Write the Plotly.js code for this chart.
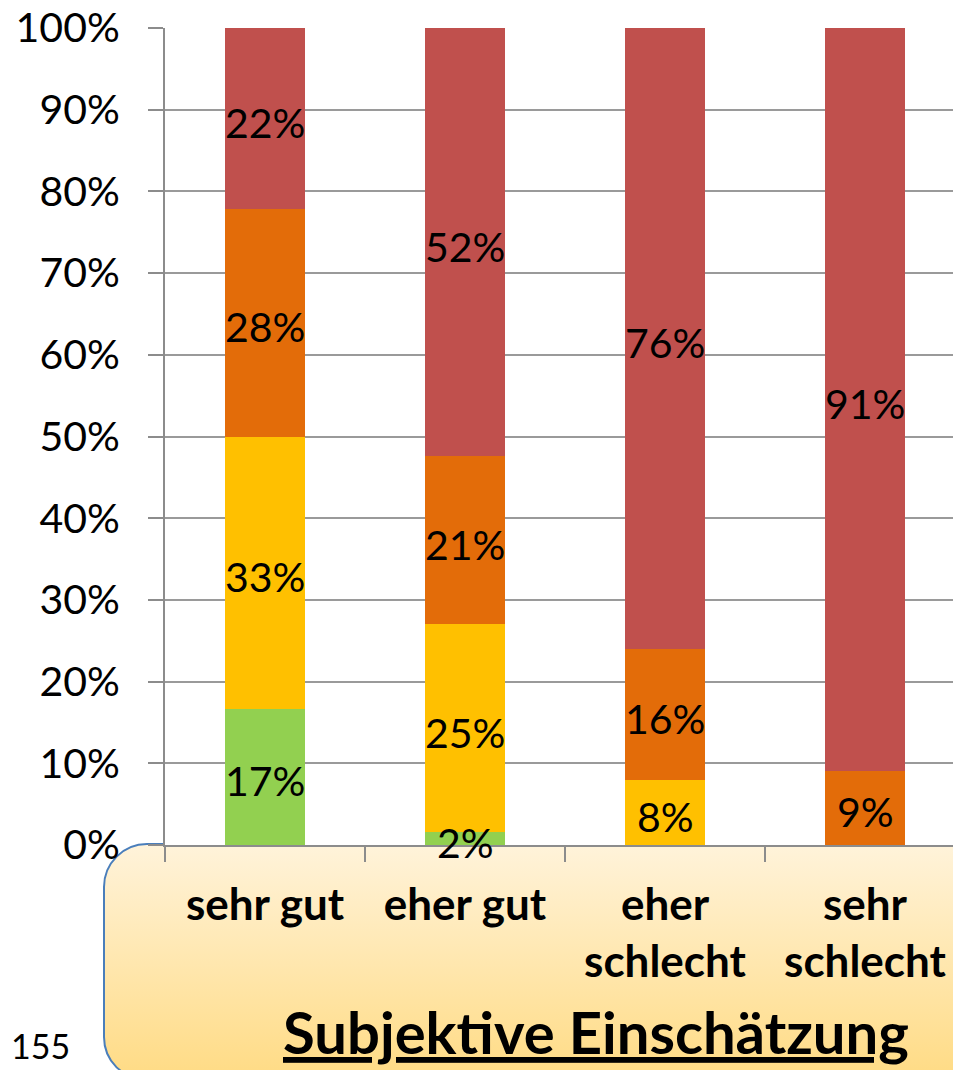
<!DOCTYPE html>
<html>
<head>
<meta charset="utf-8">
<script src="https://cdn.plot.ly/plotly-3.0.1.min.js"></script>
<style>
  html, body { margin: 0; padding: 0; width: 953px; height: 1070px; overflow: hidden; background: #ffffff; }
  #box { position: absolute; left: 103px; top: 843px; width: 950px; height: 234px;
         border: 2px solid #4a7ebb; border-radius: 44px;
         background: linear-gradient(to bottom, #fff3da 0%, #ffdb84 100%); }
  #chart { position: absolute; left: 0; top: 0; width: 953px; height: 1070px; }
</style>
</head>
<body>
<div id="box"></div>
<div id="chart"></div>
<script>
// Categories (x axis)
const categories = ["sehr gut", "eher gut", "eher<br>schlecht", "sehr<br>schlecht"];

// Stacked segments, bottom to top (percent)
const seriesGreen  = [16.7, 1.6, 0, 0];
const seriesYellow = [33.3, 25.4, 8.0, 0];
const seriesOrange = [27.8, 20.6, 16.0, 9.1];
const seriesRed    = [22.2, 52.4, 76.0, 90.9];

const seriesNames  = ["grün", "gelb", "orange", "rot"];
const seriesColors = ["#92d050", "#ffc000", "#e36c09", "#c0504d"];

const yTickValues = [0, 10, 20, 30, 40, 50, 60, 70, 80, 90, 100];

const titleText = "Subjektive Einschätzung";
const pageNumber = "155";

const FONT = "Lato, 'Open Sans', sans-serif";

const allSeries = [seriesGreen, seriesYellow, seriesOrange, seriesRed];
const traces = allSeries.map((vals, i) => ({
  type: "bar",
  name: seriesNames[i],
  x: categories,
  y: vals,
  marker: { color: seriesColors[i], line: { width: 0 } },
  hoverinfo: "none"
}));

// Value labels: centred on each stacked segment, drawn above all bars
const labelAnnotations = [];
const base = categories.map(() => 0);
allSeries.forEach(vals => {
  vals.forEach((v, j) => {
    if (v > 0) {
      labelAnnotations.push({
        x: categories[j],
        y: base[j] + v / 2,
        xref: "x", yref: "y",
        text: Math.round(v) + "%",
        showarrow: false,
        xanchor: "center", yanchor: "middle",
        yshift: -4,
        font: { family: FONT, size: 41, color: "#000000" }
      });
    }
    base[j] += v;
  });
});

const layout = {
  width: 953,
  height: 1070,
  margin: { l: 165, r: 0, t: 28, b: 225 },
  paper_bgcolor: "rgba(0,0,0,0)",
  plot_bgcolor: "#ffffff",
  barmode: "stack",
  bargap: 0.6,
  showlegend: false,
  font: { family: FONT, color: "#000000" },
  xaxis: {
    type: "category",
    range: [-0.5, 3.44],
    tickson: "boundaries",
    ticks: "outside",
    ticklen: 15,
    tickwidth: 2,
    tickcolor: "#8c8c8c",
    showgrid: false,
    showline: true,
    linecolor: "#8c8c8c",
    linewidth: 2,
    tickfont: { family: FONT, size: 44, color: "#000000", weight: "bold" },
    ticklabelstandoff: 20,
    fixedrange: true
  },
  yaxis: {
    range: [0, 100],
    tickvals: yTickValues,
    ticktext: yTickValues.map(v => v + "%"),
    ticks: "outside",
    ticklen: 15,
    tickwidth: 2,
    tickcolor: "#8c8c8c",
    showgrid: true,
    gridcolor: "#9a9a9a",
    gridwidth: 2,
    showline: true,
    linecolor: "#8c8c8c",
    linewidth: 2,
    zeroline: false,
    tickfont: { family: FONT, size: 41, color: "#000000" },
    ticklabelstandoff: 20,
    fixedrange: true
  },
  annotations: labelAnnotations.concat([
    {
      text: "<b><u>" + titleText + "</u></b>",
      xref: "paper", yref: "paper",
      x: 0.547, y: -0.228,
      xanchor: "center", yanchor: "middle",
      showarrow: false,
      font: { family: FONT, size: 58, color: "#000000" }
    },
    {
      text: pageNumber,
      xref: "paper", yref: "paper",
      x: -0.158, y: -0.245,
      xanchor: "center", yanchor: "middle",
      showarrow: false,
      font: { family: FONT, size: 34, color: "#000000" }
    }
  ])
};

Plotly.newPlot("chart", traces, layout, { staticPlot: true, displayModeBar: false });
</script>
</body>
</html>
